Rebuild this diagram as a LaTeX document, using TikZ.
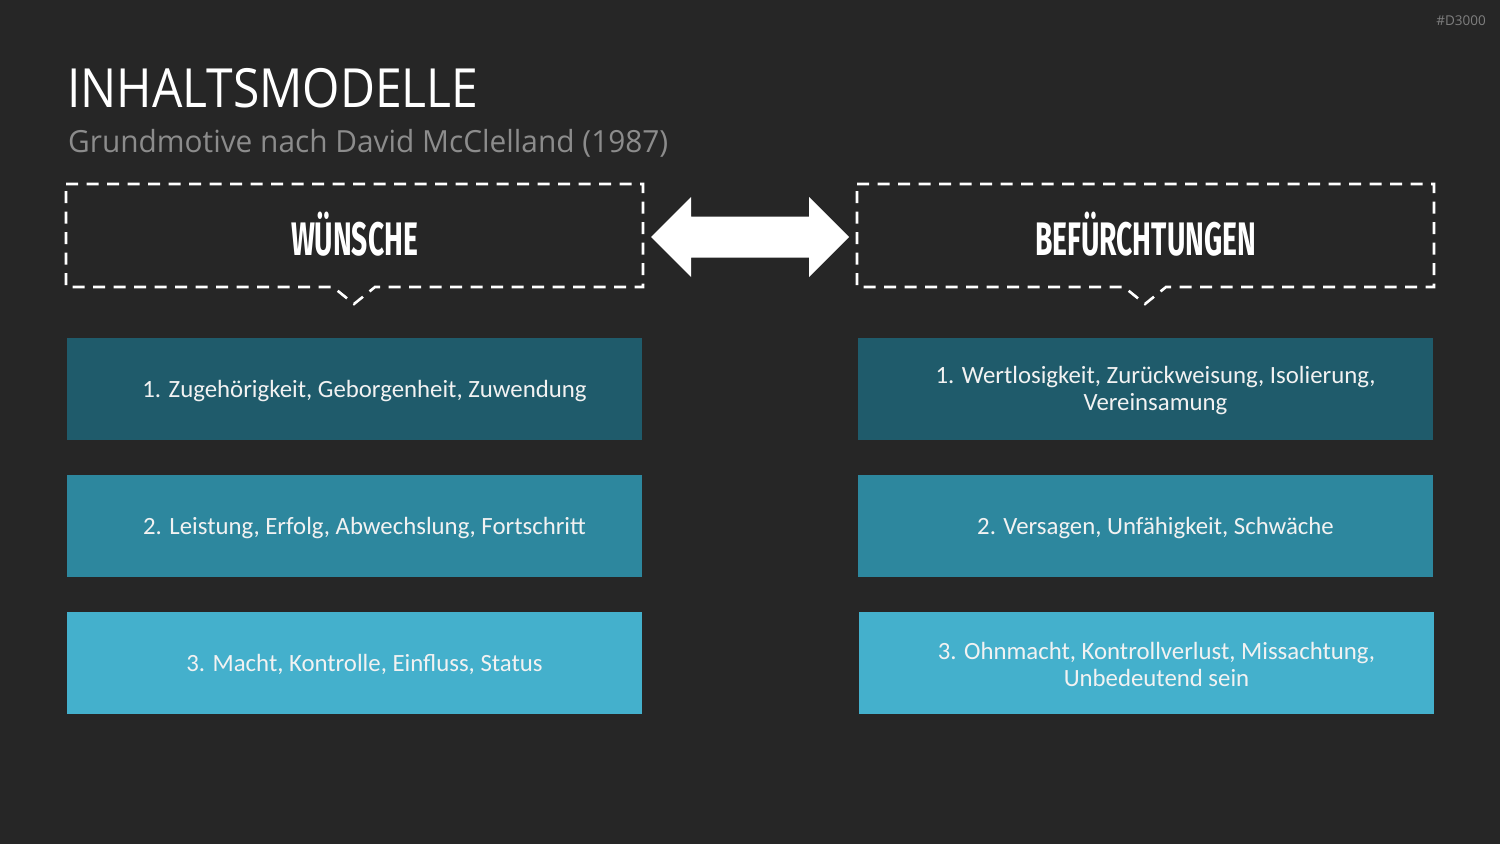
\documentclass[tikz,border=0pt]{standalone}
\usepackage{fontspec}
\setmainfont{Open Sans}
\newfontfamily\boxfont{Carlito}
\newfontfamily\headfont{Fira Sans}[UprightFont=* Bold]
\usetikzlibrary{calc}
\definecolor{bg}{HTML}{262626}
\definecolor{cA}{HTML}{1F5B6B}
\definecolor{cB}{HTML}{2D879E}
\definecolor{cC}{HTML}{44B0CC}
\definecolor{subgrey}{HTML}{8C8C8C}
\definecolor{tagrey}{HTML}{7F7F7F}
\tikzset{
  item/.style={fill=#1, draw=none, minimum width=575pt, minimum height=102pt, inner sep=0pt, outer sep=0pt},
  itemtext/.style={text=white!95!black, align=center, font=\boxfont\fontsize{24.8}{27}\selectfont, inner sep=0pt},
  dashbox/.style={draw=white, line width=2.6pt, dash pattern=on 12pt off 8.5pt},
  headtext/.style={text=white, inner sep=0pt, anchor=base}
}
\begin{document}
\begin{tikzpicture}[x=1pt,y=-1pt]
\fill[bg] (0,0) rectangle (1500,844);
\useasboundingbox (0,0) rectangle (1500,844);
% tag
\node[anchor=base east, text=tagrey, font=\fontsize{13.5}{13.5}\selectfont, inner sep=0pt] (tag) at (1486,25) {\#D3000};
% title
\node[anchor=base west, text=white, inner sep=0pt] (title) at (67,107) {\resizebox{411pt}{\height}{\fontsize{54}{54}\selectfont INHALTSMODELLE}};
\node[anchor=base west, text=subgrey, inner sep=0pt] (sub) at (68,152) {\resizebox{600pt}{\height}{\fontsize{30.5}{31}\selectfont Grundmotive nach David McClelland (1987)}};
% dashed callout boxes
\draw[dashbox] (66,184) -- (643,184) -- (643,287) -- (375,287) -- (354,304) -- (333,287) -- (66,287) -- cycle;
\draw[dashbox] (857,184) -- (1434,184) -- (1434,287) -- (1166,287) -- (1145,304) -- (1124,287) -- (857,287) -- cycle;
\node[headtext] (wl) at (354.5,255) {\resizebox{127pt}{\height}{\headfont\fontsize{47}{47}\selectfont WÜNSCHE}};
\node[headtext] (wr) at (1145.5,255) {\resizebox{221pt}{\height}{\headfont\fontsize{47}{47}\selectfont BEFÜRCHTUNGEN}};
% double arrow
\fill[white] (651,237) -- (691,197) -- (691,216.5) -- (809,216.5) -- (809,197) -- (849,237) -- (809,277) -- (809,257.5) -- (691,257.5) -- (691,277) -- cycle;
% items
\node[item=cA] (l1) at (354.5,389) {};
\node[item=cB] (l2) at (354.5,526) {};
\node[item=cC] (l3) at (354.5,662.5) {};
\node[item=cA] (r1) at (1145.5,389) {};
\node[item=cB] (r2) at (1145.5,526) {};
\node[item=cC] (r3) at (1146.5,662.5) {};
\node[itemtext] at ($(l1)+(10,2)$) {1. Zugehörigkeit, Geborgenheit, Zuwendung};
\node[itemtext] at ($(l2)+(10,2)$) {2. Leistung, Erfolg, Abwechslung, Fortschritt};
\node[itemtext] at ($(l3)+(10,2)$) {3. Macht, Kontrolle, Einfluss, Status};
\node[itemtext] at ($(r1)+(10,2)$) {1. Wertlosigkeit, Zurückweisung, Isolierung,\\Vereinsamung};
\node[itemtext] at ($(r2)+(10,2)$) {2. Versagen, Unfähigkeit, Schwäche};
\node[itemtext] at ($(r3)+(10,2)$) {3. Ohnmacht, Kontrollverlust, Missachtung,\\Unbedeutend sein};
\end{tikzpicture}
\end{document}
